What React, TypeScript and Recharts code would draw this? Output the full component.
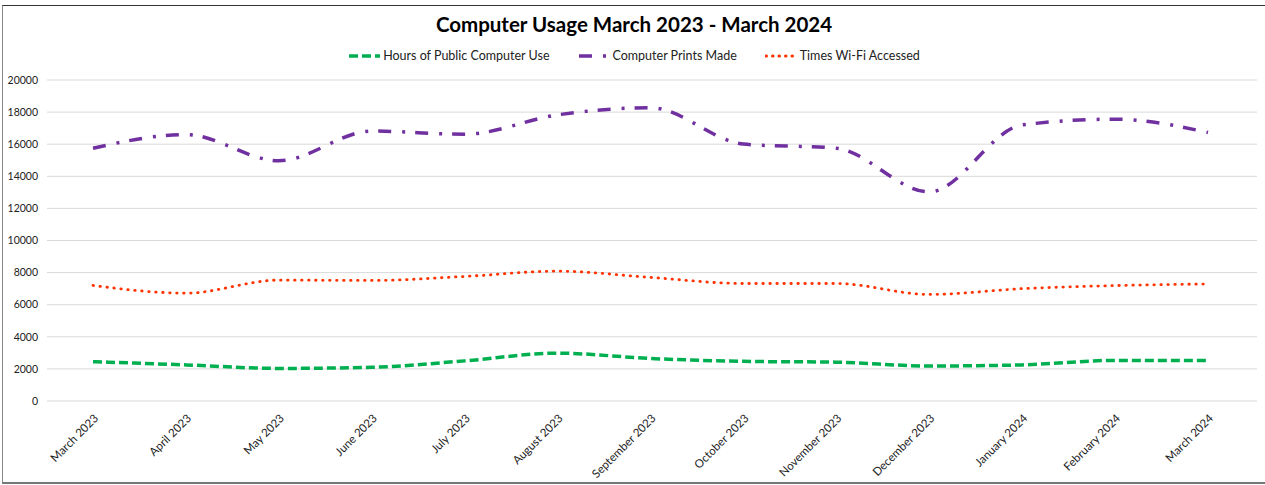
import React from 'react';
import { LineChart, Line, XAxis, YAxis, CartesianGrid } from 'recharts';

const months = [
  'March 2023', 'April 2023', 'May 2023', 'June 2023', 'July 2023', 'August 2023',
  'September 2023', 'October 2023', 'November 2023', 'December 2023',
  'January 2024', 'February 2024', 'March 2024',
];
const publicHours = [2450, 2250, 2030, 2100, 2500, 2980, 2650, 2470, 2420, 2180, 2250, 2530, 2520];
const printsMade = [15750, 16600, 14970, 16820, 16620, 17830, 18270, 16010, 15750, 13030, 17200, 17560, 16730];
const wifiAccess = [7200, 6720, 7530, 7510, 7760, 8090, 7700, 7320, 7320, 6640, 7000, 7190, 7290];
const yTicks = [0, 2000, 4000, 6000, 8000, 10000, 12000, 14000, 16000, 18000, 20000];

const data = months.map((month, i) => ({
  month,
  hours: publicHours[i],
  prints: printsMade[i],
  wifi: wifiAccess[i],
}));

const FONT = '"Gill Sans MT", Lato, "Open Sans", sans-serif';
const GREEN = '#00B050';
const PURPLE = '#7030A0';
const ORANGE = '#FF3300';

const MonthTick = (props: any) => {
  const { x, y, payload } = props;
  const ax = x + 6;
  const ay = y + 18;
  return (
    <text
      x={ax}
      y={ay}
      textAnchor="end"
      fontSize={11.5}
      fontFamily={FONT}
      fill="#222"
      transform={`rotate(-45, ${ax}, ${ay})`}
    >
      {payload.value}
    </text>
  );
};

const legendItems = [
  { label: 'Hours of Public Computer Use', color: GREEN, width: 3.5, dash: '9 4', cap: 'butt' },
  { label: 'Computer Prints Made', color: PURPLE, width: 3.5, dash: '13 11 3 10', cap: 'butt' },
  { label: 'Times Wi-Fi Accessed', color: ORANGE, width: 3, dash: '0.5 6', cap: 'round' },
];

const App: React.FC = () => {
  return (
    <div style={{ position: 'absolute', left: 0, top: 0, width: 1265, height: 485, background: '#fff', overflow: 'hidden', fontFamily: FONT }}>
      <div
        style={{
          position: 'absolute',
          left: 2,
          top: 5,
          width: 1270,
          height: 476,
          borderTop: '1px solid #333',
          borderLeft: '1px solid #888',
          borderBottom: '2px solid #777',
        }}
      />
      <div
        style={{
          position: 'absolute',
          left: 0,
          width: 1268,
          top: 12,
          textAlign: 'center',
          fontSize: 20.5,
          fontWeight: 'bold',
          color: '#000',
        }}
      >
        Computer Usage March 2023 - March 2024
      </div>
      <div
        style={{
          position: 'absolute',
          left: 0,
          width: 1268,
          top: 48,
          display: 'flex',
          justifyContent: 'center',
          alignItems: 'center',
          fontSize: 12.5,
          color: '#222',
        }}
      >
        {legendItems.map((item) => (
          <div key={item.label} style={{ display: 'flex', alignItems: 'center', margin: '0 14px' }}>
            <svg width={33} height={10} style={{ marginRight: 2 }}>
              <line
                x1={1}
                y1={5}
                x2={32}
                y2={5}
                stroke={item.color}
                strokeWidth={item.width}
                strokeDasharray={item.dash}
                strokeLinecap={item.cap as any}
              />
            </svg>
            <span>{item.label}</span>
          </div>
        ))}
      </div>
      <div style={{ position: 'absolute', left: 2, top: 5 }}>
        <LineChart width={1262} height={478} data={data} margin={{ top: 75, right: 7, left: 5, bottom: 2 }}>
          <CartesianGrid vertical={false} stroke="#d9d9d9" strokeWidth={1} />
          <XAxis
            dataKey="month"
            interval={0}
            axisLine={false}
            tickLine={false}
            tickSize={0}
            tickMargin={0}
            height={80}
            padding={{ left: 46, right: 49 }}
            tick={<MonthTick />}
          />
          <YAxis
            domain={[0, 20000]}
            ticks={yTicks}
            width={40}
            axisLine={false}
            tickLine={false}
            tickSize={0}
            tickMargin={9}
            tick={{ fontSize: 10.5, fontFamily: FONT, fill: '#222' }}
          />
          <Line
            type="monotone"
            dataKey="hours"
            stroke={GREEN}
            strokeWidth={3.5}
            strokeDasharray="9 4"
            dot={false}
            isAnimationActive={false}
          />
          <Line
            type="monotone"
            dataKey="prints"
            stroke={PURPLE}
            strokeWidth={3.5}
            strokeDasharray="13 11 3 10"
            dot={false}
            isAnimationActive={false}
          />
          <Line
            type="monotone"
            dataKey="wifi"
            stroke={ORANGE}
            strokeWidth={2.8}
            strokeDasharray="0.5 6.5"
            strokeLinecap="round"
            dot={false}
            isAnimationActive={false}
          />
        </LineChart>
      </div>
    </div>
  );
};

export default App;
